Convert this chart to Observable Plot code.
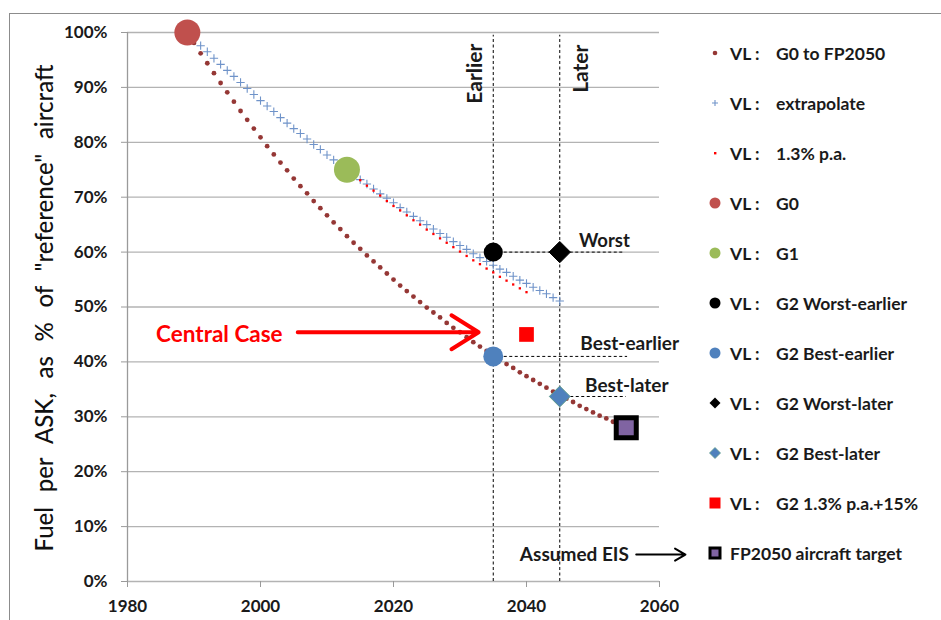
<!DOCTYPE html>
<html><head><meta charset="utf-8">
<script src="https://cdn.jsdelivr.net/npm/d3@7"></script>
<script src="https://cdn.jsdelivr.net/npm/@observablehq/plot@0.6"></script>
<style>
html,body{margin:0;padding:0;background:#fff;overflow:hidden}
#wrap{position:relative;width:941px;height:620px;font-family:Lato,"Open Sans",sans-serif;overflow:hidden}
#frame{position:absolute;left:9px;top:13px;width:1000px;height:700px;border:1px solid #8c8c8c;box-sizing:border-box}
#chart{position:absolute;left:0;top:0}
#ytitle{position:absolute;left:43px;top:308px;transform:translate(-50%,-50%) rotate(-90deg);white-space:pre;font-size:24px;color:#111;font-weight:500}
.row{position:absolute;left:705px;height:20px;display:flex;align-items:center;white-space:pre;font-weight:bold;font-size:17.5px;color:#1a1a1a}
.row svg{width:20px;height:20px;margin-right:5px;flex:none}
.vl{display:inline-block;width:46px}
</style></head><body>
<div id="wrap"><div id="frame"></div><div id="chart"></div><div id="ytitle"></div></div>
<script>
// ---- data (percent of reference aircraft fuel per ASK) ----
const g0fpStart = 1990;
const g0fpValues = [98.1,96.2,94.4,92.6,90.8,89.1,87.4,85.7,84.1,82.5,80.9,79.3,77.8,76.3,74.9,73.4,72.0,70.7,69.3,68.0,
  66.7,65.4,64.2,62.9,61.7,60.6,59.4,58.3,57.2,56.1,55.0,53.9,52.9,51.9,50.9,49.9,49.0,48.1,47.1,46.2,
  45.4,44.5,43.6,42.8,42.0,41.2,40.4,39.6,38.9,38.1,37.4,36.7,36.0,35.3,34.6,34.0,33.3,32.7,32.0,31.4,
  30.8,30.2,29.7,29.1,28.5];
const extrapStart = 1990;
const extrapValues = [98.8,97.6,96.5,95.3,94.2,93.1,92.0,90.9,89.8,88.7,87.6,86.6,85.6,84.5,83.5,82.5,81.6,80.6,79.6,78.7,
  77.7,76.8,75.9,75.0,74.1,73.2,72.4,71.5,70.6,69.8,69.0,68.1,67.3,66.5,65.7,65.0,64.2,63.4,62.7,61.9,
  61.2,60.5,59.7,59.0,58.3,57.6,56.9,56.3,55.6,54.9,54.3,53.6,53.0,52.4,51.7,51.1];
const pa13Start = 2014;
const pa13Values = [74.0,73.1,72.1,71.2,70.3,69.3,68.4,67.6,66.7,65.8,65.0,64.1,63.3,62.5,61.7,60.9,60.1,59.3,58.5,57.8,
  57.0,56.3,55.5,54.8,54.1,53.4,52.7];
const milestoneNames = ["G0","G1","G2 Worst-earlier","G2 Best-earlier","G2 Worst-later","G2 Best-later","G2 1.3% p.a.+15%","FP2050 aircraft target"];
const milestoneYears = [1989, 2013, 2035, 2035, 2045, 2045, 2040, 2055];
const milestoneValues = [100, 75, 60, 41, 60, 33.7, 45, 28];
const xTicks = [1980, 2000, 2020, 2040, 2060];
const yTicks = [0,10,20,30,40,50,60,70,80,90,100];
const eisYears = [2035, 2045];
const legendLabels = ["VL :|G0 to FP2050","VL :|extrapolate","VL :|1.3% p.a.","VL :|G0","VL :|G1","VL :|G2 Worst-earlier",
  "VL :|G2 Best-earlier","VL :|G2 Worst-later","VL :|G2 Best-later","VL :|G2 1.3% p.a.+15%","|FP2050 aircraft target"];

const series = (start, vals) => vals.map((v, i) => ({year: start + i, value: v / 100}));
const g0fp = series(g0fpStart, g0fpValues);
const extrap = series(extrapStart, extrapValues);
const pa13 = series(pa13Start, pa13Values);
const ms = milestoneNames.map((n, i) => ({name: n, year: milestoneYears[i], value: milestoneValues[i] / 100}));
const pick = n => ms.filter(d => d.name === n);

const C = {brown:"#953735", blue:"#4f81bd", cross:"#6f93c9", red:"#ff0000", g0:"#c0504d", g1:"#9bbb59", purple:"#8064a2"};
const dash = {stroke: "#000", strokeWidth: 1, strokeDasharray: "3,2.5"};

const chart = Plot.plot({
  width: 941, height: 620,
  marginLeft: 127, marginRight: 282, marginTop: 32, marginBottom: 39,
  x: {domain: [1980, 2060]},
  y: {domain: [0, 1]},
  style: {fontFamily: "Lato, 'Open Sans', sans-serif", fontSize: "16px", color: "#1a1a1a", background: "transparent", overflow: "visible"},
  marks: [
    Plot.gridY(yTicks.map(d => d / 100), {stroke: "#b3b3b3", strokeOpacity: 1, strokeWidth: 1.3}),
    Plot.ruleX([1980], {stroke: "#9a9a9a", strokeWidth: 1.3}),
    Plot.axisY(yTicks.map(d => d / 100), {label: null, tickSize: 6, tickPadding: 14, stroke: "#9a9a9a", tickFormat: d3.format(".0%"), fontWeight: "bold", fontSize: 17}),
    Plot.axisX(xTicks, {label: null, tickSize: 6, tickPadding: 12, stroke: "#9a9a9a", tickFormat: d => String(d), fontWeight: "bold", fontSize: 17}),
    // EIS reference lines
    Plot.ruleX(eisYears, {y1: 0, y2: 0.995, ...dash}),
    Plot.ruleY([0.6], {x1: 2035, x2: 2054.7, ...dash}),
    Plot.ruleY([0.41], {x1: 2035, x2: 2055.2, ...dash}),
    Plot.ruleY([0.337], {x1: 2045, x2: 2055, ...dash}),
    // series
    Plot.dot(g0fp, {x: "year", y: "value", r: 2.4, fill: C.brown}),
    Plot.dot(extrap, {x: "year", y: "value", symbol: "plus", r: 2.8, stroke: C.cross, strokeWidth: 1.1}),
    Plot.dot(pa13, {x: "year", y: "value", symbol: "square", r: 1.3, fill: C.red}),
    // milestones
    Plot.dot(pick("G0"), {x: "year", y: "value", r: 13, fill: C.g0}),
    Plot.dot(pick("G1"), {x: "year", y: "value", r: 13, fill: C.g1}),
    Plot.dot(pick("G2 Worst-earlier"), {x: "year", y: "value", r: 9.5, fill: "#000"}),
    Plot.dot(pick("G2 Best-earlier"), {x: "year", y: "value", r: 10, fill: C.blue}),
    Plot.dot(pick("G2 Worst-later"), {x: "year", y: "value", symbol: "diamond2", r: 9.6, fill: "#000", stroke: "#000", strokeWidth: 1}),
    Plot.dot(pick("G2 Best-later"), {x: "year", y: "value", symbol: "diamond2", r: 9.4, fill: C.blue, stroke: "#5e9a8c", strokeWidth: 1}),
    Plot.dot(pick("G2 1.3% p.a.+15%"), {x: "year", y: "value", symbol: "square", r: 8.3, fill: C.red}),
    Plot.dot(pick("FP2050 aircraft target"), {x: "year", y: "value", symbol: "square", r: 11.3, fill: C.purple, stroke: "#000", strokeWidth: 5}),
    // annotations
    Plot.text(["Earlier"], {x: 2032.3, y: 0.925, text: d => d, rotate: -90, fontWeight: "bold", fontSize: 21}),
    Plot.text(["Later"], {x: 2048.2, y: 0.934, text: d => d, rotate: -90, fontWeight: "bold", fontSize: 21}),
    Plot.text(["Worst"], {x: 2047.9, y: 0.62, text: d => d, textAnchor: "start", fontWeight: "bold", fontSize: 18.5}),
    Plot.text(["Best-earlier"], {x: 2048.1, y: 0.432, text: d => d, textAnchor: "start", fontWeight: "bold", fontSize: 19}),
    Plot.text(["Best-later"], {x: 2048.8, y: 0.357, text: d => d, textAnchor: "start", fontWeight: "bold", fontSize: 19}),
    Plot.text(["Central Case"], {x: 1984.3, y: 0.45, text: d => d, textAnchor: "start", fontWeight: "bold", fontSize: 22.5, fill: C.red}),
    Plot.arrow([0], {x1: 2005.6, y1: 0.454, x2: 2032.8, y2: 0.454, stroke: C.red, strokeWidth: 4, headLength: 12, headAngle: 64}),
    Plot.text(["Assumed EIS"], {x: 2039, y: 0.049, text: d => d, textAnchor: "start", fontWeight: "bold", fontSize: 19}),
    Plot.arrow([0], {x1: 2056.5, y1: 0.049, x2: 2063.9, y2: 0.049, stroke: "#000", strokeWidth: 2, headLength: 9, headAngle: 60})
  ]
});
document.getElementById("chart").appendChild(chart);
const yt = document.getElementById("ytitle");
yt.textContent = 'Fuel per ASK, as % of "reference" aircraft';
const w = yt.getBoundingClientRect().height;
yt.style.wordSpacing = Math.max(0, (487 - w) / 7) + "px";

// legend markers
const markers = [
  '<circle cx="10" cy="10" r="2.3" fill="'+C.brown+'"/>',
  '<path d="M7 10h6M10 7v6" stroke="'+C.cross+'" stroke-width="1.1"/>',
  '<rect x="9" y="9" width="2.4" height="2.4" fill="'+C.red+'"/>',
  '<circle cx="10" cy="10" r="5.5" fill="'+C.g0+'"/>',
  '<circle cx="10" cy="10" r="5.5" fill="'+C.g1+'"/>',
  '<circle cx="10" cy="10" r="5.5" fill="#000"/>',
  '<circle cx="10" cy="10" r="5.5" fill="'+C.blue+'"/>',
  '<path d="M10 4.5L15.5 10L10 15.5L4.5 10Z" fill="#000"/>',
  '<path d="M10 4.5L15.5 10L10 15.5L4.5 10Z" fill="'+C.blue+'" stroke="#5e9a8c" stroke-width="0.8"/>',
  '<rect x="4.5" y="4.5" width="11" height="11" fill="'+C.red+'"/>',
  '<rect x="5" y="5" width="10" height="10" fill="'+C.purple+'" stroke="#000" stroke-width="3"/>'
];
const wrap = document.getElementById("wrap");
legendLabels.forEach((lab, i) => {
  const [a, b] = lab.split("|");
  const row = document.createElement("div");
  row.className = "row";
  row.style.top = (53 + 50 * i - 10) + "px";
  row.innerHTML = '<svg viewBox="0 0 20 20">' + markers[i] + '</svg>' + (a ? '<span class="vl">' + a + '</span>' : '') + '<span>' + b + '</span>';
  wrap.appendChild(row);
});
</script></body></html>
